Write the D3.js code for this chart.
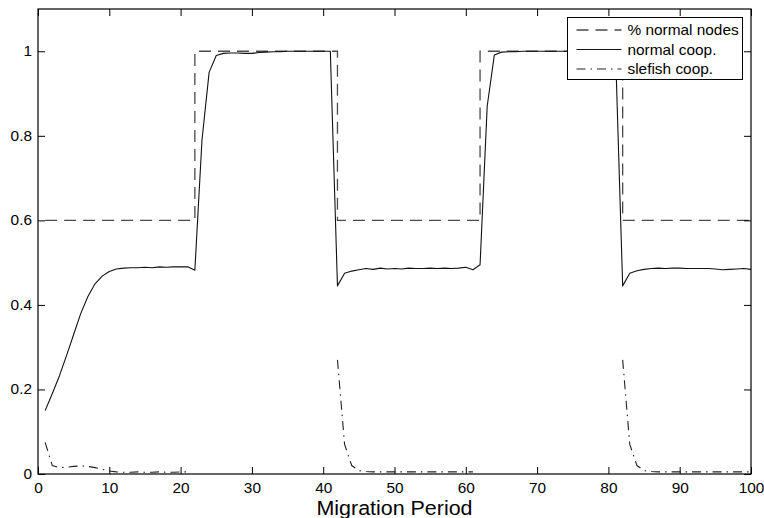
<!DOCTYPE html>
<html>
<head>
<meta charset="utf-8">
<script src="https://cdn.jsdelivr.net/npm/d3@7"></script>
<style>
  html, body { margin: 0; padding: 0; background: #fff; }
  svg { display: block; }
  text { font-family: "Liberation Sans", Arial, Helvetica, sans-serif; fill: #000; }
</style>
</head>
<body>
<svg id="chart" width="764" height="518"></svg>
<script>
// Migration periods 1..100
const periods = d3.range(1, 101);

// Share of normal nodes in the network per period
const pctNormal = [
  0.6,0.6,0.6,0.6,0.6,0.6,0.6,0.6,0.6,0.6, 0.6,0.6,0.6,0.6,0.6,0.6,0.6,0.6,0.6,0.6,
  0.6,1,1,1,1,1,1,1,1,1, 1,1,1,1,1,1,1,1,1,1,
  1,0.6,0.6,0.6,0.6,0.6,0.6,0.6,0.6,0.6, 0.6,0.6,0.6,0.6,0.6,0.6,0.6,0.6,0.6,0.6,
  0.6,1,1,1,1,1,1,1,1,1, 1,1,1,1,1,1,1,1,1,1,
  1,0.6,0.6,0.6,0.6,0.6,0.6,0.6,0.6,0.6, 0.6,0.6,0.6,0.6,0.6,0.6,0.6,0.6,0.6,0.6
];

// Cooperation level of normal nodes
const normalCoop = [
  0.150,0.190,0.232,0.280,0.330,0.380,0.420,0.450,0.468,0.479,
  0.485,0.487,0.488,0.488,0.489,0.488,0.490,0.489,0.490,0.490,
  0.490,0.482,0.790,0.950,0.990,0.995,0.996,0.996,0.995,0.995,
  0.997,0.998,0.999,0.999,1.000,1.000,1.000,1.000,1.000,1.000,
  1.000,0.445,0.475,0.480,0.483,0.486,0.484,0.487,0.485,0.486,
  0.485,0.487,0.486,0.486,0.487,0.486,0.487,0.486,0.487,0.489,
  0.483,0.495,0.870,0.991,0.998,0.999,0.999,1.000,1.000,1.000,
  1.000,1.000,1.000,1.000,1.000,1.000,1.000,1.000,1.000,1.000,
  1.000,0.445,0.475,0.481,0.484,0.486,0.487,0.486,0.487,0.487,
  0.486,0.486,0.486,0.486,0.485,0.483,0.484,0.485,0.486,0.484
];

// Cooperation level of selfish nodes (null while no selfish nodes are present)
const selfishCoop = [
  0.075,0.020,0.015,0.016,0.018,0.019,0.018,0.015,0.011,0.007,
  0.005,0.004,0.004,0.005,0.004,0.004,0.005,0.004,0.004,0.005,
  0.005,null,null,null,null,null,null,null,null,null,
  null,null,null,null,null,null,null,null,null,null,
  null,0.270,0.070,0.020,0.008,0.006,0.005,0.005,0.005,0.005,
  0.005,0.005,0.005,0.005,0.005,0.005,0.005,0.005,0.005,0.005,
  0.005,null,null,null,null,null,null,null,null,null,
  null,null,null,null,null,null,null,null,null,null,
  null,0.270,0.070,0.020,0.008,0.006,0.005,0.005,0.005,0.005,
  0.005,0.005,0.005,0.005,0.005,0.005,0.005,0.005,0.005,0.005
];

const xTicks = [0, 10, 20, 30, 40, 50, 60, 70, 80, 90, 100];
const yTicks = [0, 0.2, 0.4, 0.6, 0.8, 1];
const yTickLabels = ["0", "0.2", "0.4", "0.6", "0.8", "1"];
const legendLabels = ["% normal nodes", "normal coop.", "slefish coop."];
const xTitle = "Migration Period";

const svg = d3.select("#chart");
const plot = { left: 38, right: 751, top: 9, bottom: 474 };
const stretch = 1.1; // glyphs are slightly wider than tall

const x = d3.scaleLinear().domain([0, 100]).range([plot.left, plot.right]);
const y = d3.scaleLinear().domain([0, 1.1]).range([plot.bottom, plot.top]);

svg.append("rect").attr("width", 764).attr("height", 518).attr("fill", "#fff");

svg.append("defs").append("clipPath").attr("id", "plotClip")
  .append("rect")
  .attr("x", plot.left).attr("y", plot.top)
  .attr("width", plot.right - plot.left).attr("height", plot.bottom - plot.top);

const styles = [
  { stroke: "#4a4a4a", width: 1.3, dash: "12,7" },
  { stroke: "#111", width: 1.1, dash: null },
  { stroke: "#222", width: 1.1, dash: "9,5,1.5,5" }
];

const g = svg.append("g").attr("clip-path", "url(#plotClip)");

// Step line for the normal-node share
const stepLine = d3.line()
  .x((d, i) => x(periods[i]))
  .y(d => y(d))
  .curve(d3.curveStepAfter);

const line = d3.line()
  .defined(d => d != null)
  .x((d, i) => x(periods[i]))
  .y(d => y(d));

g.append("path").datum(pctNormal)
  .attr("d", stepLine)
  .attr("fill", "none")
  .attr("stroke", styles[0].stroke)
  .attr("stroke-width", styles[0].width)
  .attr("stroke-dasharray", styles[0].dash);

g.append("path").datum(normalCoop)
  .attr("d", line)
  .attr("fill", "none")
  .attr("stroke", styles[1].stroke)
  .attr("stroke-width", styles[1].width)
  .attr("stroke-linejoin", "round");

g.append("path").datum(selfishCoop)
  .attr("d", line)
  .attr("fill", "none")
  .attr("stroke", styles[2].stroke)
  .attr("stroke-width", styles[2].width)
  .attr("stroke-dasharray", styles[2].dash);

// Axes with inward ticks on all four sides
const tickLen = 7;
const axisFont = 14;

const xAxis = svg.append("g")
  .attr("transform", `translate(0,${plot.bottom})`)
  .call(d3.axisBottom(x).tickValues(xTicks).tickSize(-tickLen).tickPadding(9).tickFormat(d3.format("d")));
svg.append("g")
  .attr("transform", `translate(0,${plot.top})`)
  .call(d3.axisTop(x).tickValues(xTicks).tickSize(-tickLen).tickFormat(""));
const yAxis = svg.append("g")
  .attr("transform", `translate(${plot.left},0)`)
  .call(d3.axisLeft(y).tickValues(yTicks).tickSize(-tickLen).tickPadding(6)
    .tickFormat((d, i) => yTickLabels[i]));
svg.append("g")
  .attr("transform", `translate(${plot.right},0)`)
  .call(d3.axisRight(y).tickValues(yTicks).tickSize(-tickLen).tickFormat(""));

svg.selectAll(".domain").remove();
svg.selectAll(".tick line").attr("stroke", "#000").attr("stroke-width", 1);
svg.selectAll(".tick text")
  .attr("font-size", axisFont)
  .attr("font-family", '"Liberation Sans", Arial, Helvetica, sans-serif')
  .attr("fill", "#000");
xAxis.selectAll(".tick text").attr("transform", `scale(${stretch},1)`).attr("y", 9);
yAxis.selectAll(".tick text").attr("x", -6 / stretch).attr("transform", `scale(${stretch},1)`);

// Frame
svg.append("rect")
  .attr("x", plot.left).attr("y", plot.top)
  .attr("width", plot.right - plot.left).attr("height", plot.bottom - plot.top)
  .attr("fill", "none").attr("stroke", "#000").attr("stroke-width", 1.2);

// X axis title
svg.append("text")
  .attr("transform", `translate(${(plot.left + plot.right) / 2},515) scale(${stretch},1)`)
  .attr("text-anchor", "middle")
  .attr("font-size", 19.5)
  .text(xTitle);

// Legend
const legend = svg.append("g").attr("transform", "translate(567.5,17.5)");
legend.append("rect")
  .attr("width", 175).attr("height", 62)
  .attr("fill", "#fff").attr("stroke", "#000").attr("stroke-width", 1);

legendLabels.forEach((label, i) => {
  const cy = 12.5 + i * 19.5;
  const s = styles[i];
  legend.append("line")
    .attr("x1", 9).attr("x2", 54).attr("y1", cy).attr("y2", cy)
    .attr("stroke", s.stroke).attr("stroke-width", s.width)
    .attr("stroke-dasharray", s.dash);
  legend.append("text")
    .attr("transform", `translate(60,${cy + 5}) scale(${stretch},1)`)
    .attr("font-size", 14)
    .text(label);
});
</script>
</body>
</html>
